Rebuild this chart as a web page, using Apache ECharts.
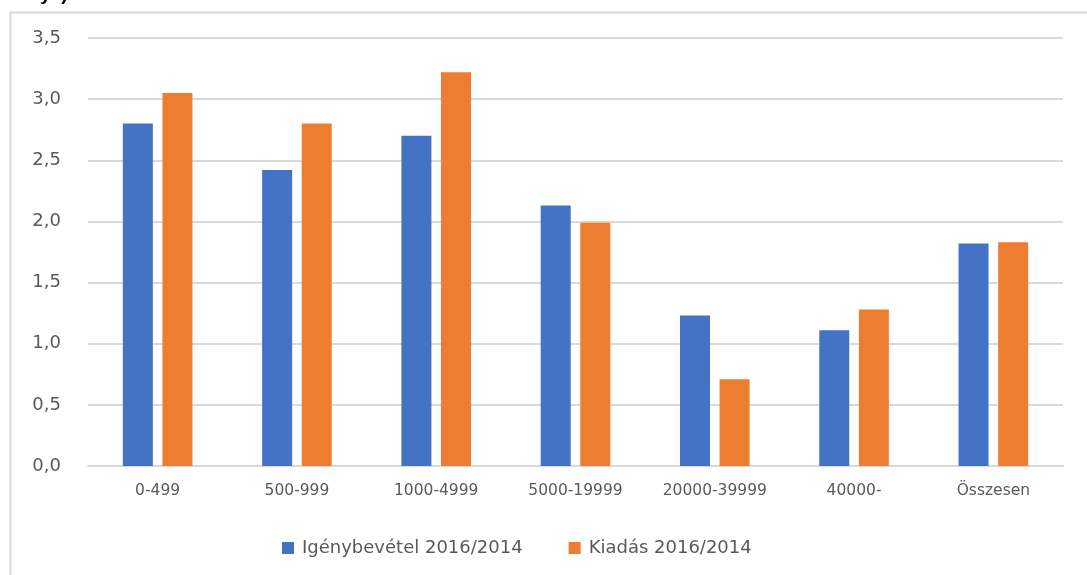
<!DOCTYPE html>
<html>
<head>
<meta charset="utf-8">
<title>Igénybevétel és kiadás 2016/2014</title>
<script src="https://cdn.jsdelivr.net/npm/echarts@6/dist/echarts.min.js"></script>
<style>
  html, body { margin: 0; padding: 0; background: #fff; }
  #chart { width: 1087px; height: 575px; }
</style>
</head>
<body>
<div id="chart"></div>
<script>
// kategóriák (településméret)
var categories = ['0-499', '500-999', '1000-4999', '5000-19999', '20000-39999', '40000-', 'Összesen'];
var seriesNames = ['Igénybevétel 2016/2014', 'Kiadás 2016/2014'];
// értékek
var igenybevetel = [2.80, 2.42, 2.70, 2.13, 1.23, 1.11, 1.82];
var kiadas = [3.05, 2.80, 3.22, 1.99, 0.71, 1.28, 1.83];
var yTicks = [0, 0.5, 1, 1.5, 2, 2.5, 3, 3.5];

var font = '"DejaVu Sans", "Noto Sans", sans-serif';
var chart = echarts.init(document.getElementById('chart'));

var option = {
  animation: false,
  textStyle: { fontFamily: font },
  graphic: [
    // chart area border (Excel style, cut at the edges)
    {
      type: 'rect', left: 8, top: 10, silent: true,
      shape: { width: 1200, height: 700 },
      style: { fill: 'none', stroke: '#d9d9d9', lineWidth: 2 }
    },
    // cut-off title line above the chart
    {
      type: 'text', left: 0, top: -15, silent: true,
      style: { text: 'arányá)', font: 'bold 19px "Liberation Sans", sans-serif', fill: '#000' }
    }
  ],
  grid: { left: 88, right: 24, top: 38, bottom: 109 },
  legend: {
    left: 277, top: 534,
    itemWidth: 12, itemHeight: 12, itemGap: 46,
    icon: 'rect',
    textStyle: { fontSize: 18, color: '#595959', fontFamily: font, padding: [0, 0, 0, 3] },
    data: seriesNames
  },
  xAxis: {
    type: 'category',
    data: categories,
    axisLine: { lineStyle: { color: '#d9d9d9', width: 2 } },
    axisTick: { show: false },
    axisLabel: { color: '#595959', fontSize: 15.5, margin: 17, interval: 0, fontFamily: font }
  },
  yAxis: {
    type: 'value',
    min: yTicks[0], max: yTicks[yTicks.length - 1], interval: 0.5,
    axisLine: { show: false },
    axisTick: { show: false },
    splitLine: { lineStyle: { color: '#d9d9d9', width: 2 } },
    axisLabel: {
      color: '#595959', fontSize: 18, margin: 27, fontFamily: font,
      formatter: function (v) { return v.toFixed(1).replace('.', ','); }
    }
  },
  series: [
    {
      name: seriesNames[0], type: 'bar', data: igenybevetel,
      barWidth: 30, barGap: '32%',
      itemStyle: { color: '#4472C4' }
    },
    {
      name: seriesNames[1], type: 'bar', data: kiadas,
      barWidth: 30, barGap: '32%',
      itemStyle: { color: '#ED7D31' }
    }
  ]
};
chart.setOption(option);
</script>
</body>
</html>
